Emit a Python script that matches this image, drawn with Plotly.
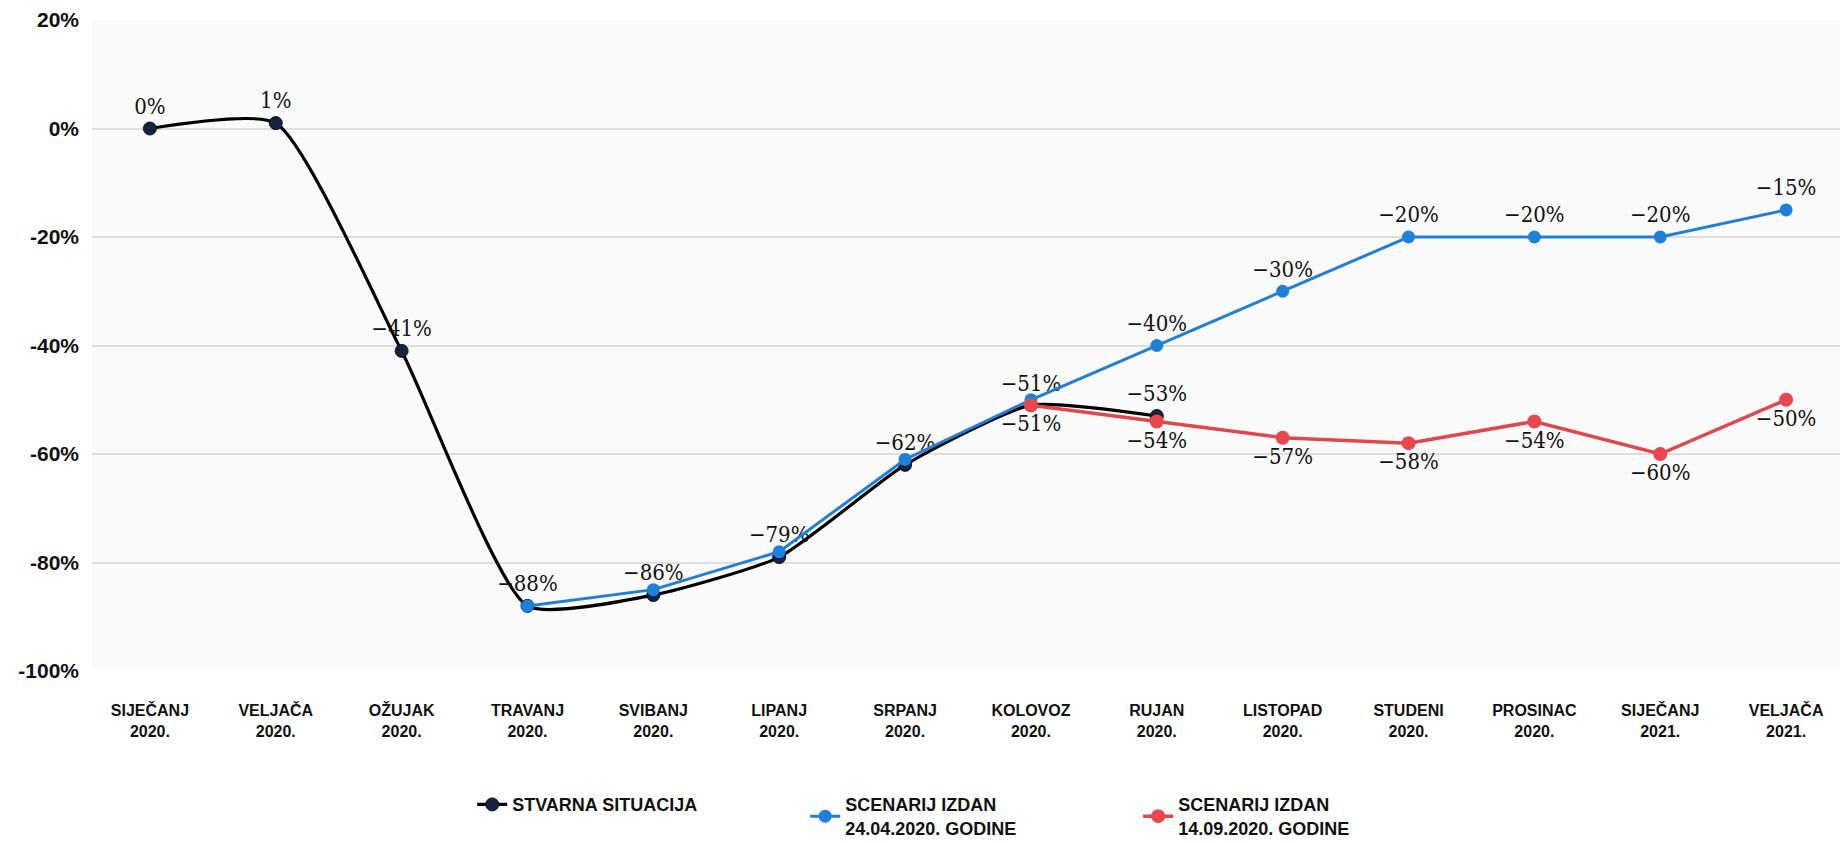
import plotly.graph_objects as go

months = ["SIJEČANJ<br>2020.", "VELJAČA<br>2020.", "OŽUJAK<br>2020.", "TRAVANJ<br>2020.",
          "SVIBANJ<br>2020.", "LIPANJ<br>2020.", "SRPANJ<br>2020.", "KOLOVOZ<br>2020.",
          "RUJAN<br>2020.", "LISTOPAD<br>2020.", "STUDENI<br>2020.", "PROSINAC<br>2020.",
          "SIJEČANJ<br>2021.", "VELJAČA<br>2021."]

actual_idx = [0, 1, 2, 3, 4, 5, 6, 7, 8]
actual_vals = [0, 1, -41, -88, -86, -79, -62, -51, -53]
actual_labels = ["0%", "1%", "−41%", "−88%", "−86%", "−79%", "−62%", "−51%", "−53%"]

blue_idx = [3, 4, 5, 6, 7, 8, 9, 10, 11, 12, 13]
blue_vals = [-88, -85, -78, -61, -50, -40, -30, -20, -20, -20, -15]
blue_labels = ["", "", "", "", "", "−40%", "−30%", "−20%", "−20%", "−20%", "−15%"]

red_idx = [7, 8, 9, 10, 11, 12, 13]
red_vals = [-51, -54, -57, -58, -54, -60, -50]
red_labels = ["−51%", "−54%", "−57%", "−58%", "−54%", "−60%", "−50%"]

y_tickvals = [20, 0, -20, -40, -60, -80, -100]
y_ticktext = ["20%", "0%", "-20%", "-40%", "-60%", "-80%", "-100%"]

series_names = ["STVARNA SITUACIJA", "SCENARIJ IZDAN<br>24.04.2020. GODINE",
                "SCENARIJ IZDAN<br>14.09.2020. GODINE"]

label_font = dict(family="DejaVu Serif Condensed, Liberation Serif, serif", size=22, color="#111111")
narrow = "Liberation Sans Narrow, Arial Narrow, sans-serif"

fig = go.Figure()

fig.add_trace(go.Scatter(
    x=actual_idx, y=actual_vals, name=series_names[0],
    mode="lines+markers+text", text=actual_labels,
    textposition="top center", textfont=label_font,
    line=dict(color="#000000", width=3.2, shape="spline", smoothing=0.55),
    marker=dict(color="#14233f", size=13, line=dict(color="#0a1020", width=1)),
))

fig.add_trace(go.Scatter(
    x=blue_idx, y=blue_vals, name=series_names[1],
    mode="lines+markers+text", text=blue_labels,
    textposition="top center", textfont=label_font,
    line=dict(color="#1f7fd6", width=3),
    marker=dict(color="#1f80da", size=13),
))

fig.add_trace(go.Scatter(
    x=red_idx, y=red_vals, name=series_names[2],
    mode="lines+markers+text", text=red_labels,
    textposition="bottom center", textfont=label_font,
    line=dict(color="#e0464b", width=3.5),
    marker=dict(color="#e8484d", size=14),
))

fig.update_layout(
    width=1848, height=843,
    margin=dict(l=84, r=12, t=12, b=180, autoexpand=False),
    paper_bgcolor="#ffffff",
    plot_bgcolor="#fafafa",
    showlegend=True,
    legend=dict(
        orientation="h", x=0.217, xanchor="left", y=-0.177, yanchor="top",
        font=dict(family=narrow, size=18, color="#111111", weight="bold"),
        entrywidth=288, entrywidthmode="pixels", itemwidth=30,
        bgcolor="rgba(0,0,0,0)",
    ),
    xaxis=dict(
        range=[-0.46, 13.46],
        tickmode="array", tickvals=list(range(len(months))), ticktext=months,
        tickfont=dict(family=narrow, size=16, color="#111111", weight="bold"),
        showgrid=False, zeroline=False, showline=False, ticks="",
        ticklabelstandoff=28,
    ),
    yaxis=dict(
        range=[-100, 20],
        tickmode="array", tickvals=y_tickvals, ticktext=y_ticktext,
        tickfont=dict(family="Liberation Sans, Arial, sans-serif", size=21, color="#111111", weight="bold"),
        showgrid=True, gridcolor="#dedede", gridwidth=1.5,
        zeroline=False, showline=False, ticks="",
        ticklabelstandoff=12,
    ),
)

fig.write_html("out.html")
